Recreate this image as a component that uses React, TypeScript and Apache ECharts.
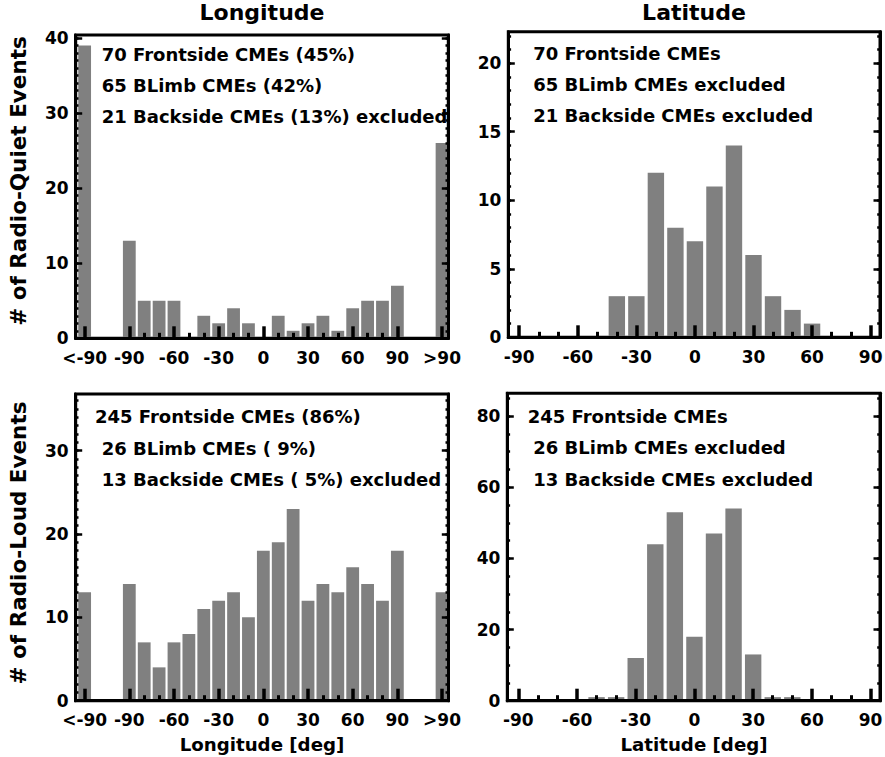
import React, { useEffect, useRef } from 'react';
import * as echarts from 'echarts';

// Longitude bins: -120 stands for the "<-90" bin, 120 for the ">90" bin
const lonBins = [-120, -90, -80, -70, -60, -50, -40, -30, -20, -10, 0, 10, 20, 30, 40, 50, 60, 70, 80, 90, 120];
const latBins = [-90, -80, -70, -60, -50, -40, -30, -20, -10, 0, 10, 20, 30, 40, 50, 60, 70, 80, 90];

const quietLon = [39, 13, 5, 5, 5, 0, 3, 2, 4, 2, 0, 3, 1, 2, 3, 1, 4, 5, 5, 7, 26];
const loudLon = [13, 14, 7, 4, 7, 8, 11, 12, 13, 10, 18, 19, 23, 12, 14, 13, 16, 14, 12, 18, 13];
const quietLat = [0, 0, 0, 0, 0, 3, 3, 12, 8, 7, 11, 14, 6, 3, 2, 1, 0, 0, 0];
const loudLat = [0, 0, 0, 0, 1, 1, 12, 44, 53, 18, 47, 54, 13, 1, 1, 0, 0, 0, 0];

const lonTickValues = [-120, -90, -60, -30, 0, 30, 60, 90, 120];
const lonTickLabels = ['<-90', '-90', '-60', '-30', '0', '30', '60', '90', '>90'];
const lonMinorTicks = [-80, -70, -50, -40, -20, -10, 10, 20, 40, 50, 70, 80];
const latTickValues = [-90, -60, -30, 0, 30, 60, 90];
const latTickLabels = ['-90', '-60', '-30', '0', '30', '60', '90'];
const latMinorTicks = [-80, -70, -50, -40, -20, -10, 10, 20, 40, 50, 70, 80];

const quietYTicks = [0, 10, 20, 30, 40];
const quietLatYTicks = [0, 5, 10, 15, 20];
const loudYTicks = [0, 10, 20, 30];
const loudLatYTicks = [0, 20, 40, 60, 80];

const titles = ['Longitude', 'Latitude'];
const yTitles = ['# of Radio-Quiet Events', '# of Radio-Loud Events'];
const xTitles = ['Longitude [deg]', 'Latitude [deg]'];

const notesQuietLon = ['70 Frontside CMEs (45%)', '65 BLimb CMEs (42%)', '21 Backside CMEs (13%) excluded'];
const notesQuietLat = ['70 Frontside CMEs', '65 BLimb CMEs excluded', '21 Backside CMEs excluded'];
const notesLoudLon = ['245 Frontside CMEs (86%)', '26 BLimb CMEs ( 9%)', '13 Backside CMEs ( 5%) excluded'];
const notesLoudLat = ['245 Frontside CMEs', '26 BLimb CMEs excluded', '13 Backside CMEs excluded'];

const FONT = 'DejaVu Sans';
const BAR = '#808080';

function range(a: number, b: number, step: number) {
  const out: number[] = [];
  for (let v = a; v <= b + 1e-9; v += step) out.push(v);
  return out;
}

export default function App() {
  const ref = useRef<HTMLDivElement>(null);

  useEffect(() => {
    const chart = echarts.init(ref.current!, null, { renderer: 'svg' });

    const panels = [
      {
        grid: { left: 75.7, top: 35, width: 372.6, height: 303.3 },
        xmin: -126, xmax: 124.2, bins: lonBins, vals: quietLon, barWidth: 12.8,
        xt: lonTickValues, xl: lonTickLabels, xm: lonMinorTicks,
        ymax: 40.4, yt: quietYTicks, ym: range(0, 40, 1),
        notes: notesQuietLon, nx: [101.7, 101.7, 101.7], ny: [54.3, 85.7, 116.7],
      },
      {
        grid: { left: 508.3, top: 31.7, width: 371.7, height: 305.6 },
        xmin: -95.6, xmax: 94.8, bins: latBins, vals: quietLat, barWidth: 16.4,
        xt: latTickValues, xl: latTickLabels, xm: latMinorTicks,
        ymax: 22.3, yt: quietLatYTicks, ym: range(0, 22, 1),
        notes: notesQuietLat, nx: [533.3, 533.3, 533.3], ny: [53.3, 84.3, 115.7],
      },
      {
        grid: { left: 75.7, top: 394, width: 372.6, height: 306.7 },
        xmin: -126, xmax: 124.2, bins: lonBins, vals: loudLon, barWidth: 12.8,
        xt: lonTickValues, xl: lonTickLabels, xm: lonMinorTicks,
        ymax: 36.8, yt: loudYTicks, ym: range(0, 36, 1),
        notes: notesLoudLon, nx: [95, 101.7, 101.7], ny: [416.7, 448.3, 479],
      },
      {
        grid: { left: 507.3, top: 393.3, width: 372.7, height: 307.4 },
        xmin: -95.6, xmax: 94.8, bins: latBins, vals: loudLat, barWidth: 16.4,
        xt: latTickValues, xl: latTickLabels, xm: latMinorTicks,
        ymax: 86.4, yt: loudLatYTicks, ym: range(0, 85, 5),
        notes: notesLoudLat, nx: [527.7, 533.3, 533.3], ny: [416.7, 447.7, 479],
      },
    ];

    const grids: any[] = [];
    const xAxes: any[] = [];
    const yAxes: any[] = [];
    const series: any[] = [];
    const graphics: any[] = [];

    const labelStyle = { color: '#000', fontFamily: FONT, fontWeight: 'bold', fontSize: 17 };

    panels.forEach((p, i) => {
      grids.push({
        ...p.grid,
        show: true,
        borderColor: '#000',
        borderWidth: 3,
        backgroundColor: 'transparent',
        containLabel: false,
        outerBoundsMode: 'none',
      });
      // main x axis
      xAxes.push({
        gridIndex: i, type: 'value', position: 'bottom', min: p.xmin, max: p.xmax, z: 5,
        axisLine: { show: true, onZero: false, lineStyle: { color: '#000', width: 3 } },
        axisTick: { show: true, inside: true, length: 12, customValues: p.xt, lineStyle: { color: '#000', width: 3.5 } },
        axisLabel: {
          show: true, margin: 11, customValues: p.xt, ...labelStyle,
          formatter: (v: number) => {
            const k = p.xt.indexOf(v);
            return k >= 0 ? p.xl[k] : '';
          },
        },
        splitLine: { show: false },
      });
      // minor x axis
      xAxes.push({
        gridIndex: i, type: 'value', position: 'bottom', min: p.xmin, max: p.xmax, z: 5,
        axisLine: { show: false, onZero: false },
        axisTick: { show: true, inside: true, length: 5.5, customValues: p.xm, lineStyle: { color: '#000', width: 3 } },
        axisLabel: { show: false },
        splitLine: { show: false },
      });
      const yBase = (position: string, major: boolean, labels: boolean) => ({
        gridIndex: i, type: 'value', position, min: 0, max: p.ymax, z: 5,
        axisLine: { show: major, onZero: false, lineStyle: { color: '#000', width: 3 } },
        axisTick: {
          show: true, inside: true, length: major ? 6.5 : 2.8,
          customValues: major ? p.yt : p.ym,
          lineStyle: { color: '#000', width: 2.5 },
        },
        axisLabel: labels
          ? { show: true, margin: 7, customValues: p.yt, ...labelStyle }
          : { show: false },
        splitLine: { show: false },
      });
      yAxes.push(yBase('left', true, true));
      yAxes.push(yBase('left', false, false));
      yAxes.push(yBase('right', true, false));
      yAxes.push(yBase('right', false, false));

      series.push({
        type: 'bar',
        xAxisIndex: i * 2,
        yAxisIndex: i * 4,
        data: p.bins.map((b, k) => [b, p.vals[k]]),
        barWidth: p.barWidth,
        itemStyle: { color: BAR },
        z: 2,
        silent: true,
      });

      p.notes.forEach((t, k) => {
        graphics.push({
          type: 'text', x: p.nx[k], y: p.ny[k], z: 10,
          style: {
            text: t, fill: '#000', fontFamily: FONT, fontWeight: 'bold', fontSize: 18,
            textAlign: 'left', textVerticalAlign: 'middle',
          },
        });
      });
    });

    // Column titles
    [262, 694].forEach((cx, k) => {
      graphics.push({
        type: 'text', x: cx, y: 12,
        style: { text: titles[k], fill: '#000', fontFamily: FONT, fontWeight: 'bold', fontSize: 22, textAlign: 'center', textVerticalAlign: 'middle' },
      });
      graphics.push({
        type: 'text', x: cx, y: 744,
        style: { text: xTitles[k], fill: '#000', fontFamily: FONT, fontWeight: 'bold', fontSize: 18.2, textAlign: 'center', textVerticalAlign: 'middle' },
      });
    });
    // Row titles (rotated)
    [181, 543].forEach((cy, k) => {
      graphics.push({
        type: 'text', x: 18, y: cy, rotation: Math.PI / 2,
        style: { text: yTitles[k], fill: '#000', fontFamily: FONT, fontWeight: 'bold', fontSize: 21.5, textAlign: 'center', textVerticalAlign: 'middle' },
      });
    });

    chart.setOption({
      animation: false,
      backgroundColor: '#fff',
      grid: grids,
      xAxis: xAxes,
      yAxis: yAxes,
      series,
      graphic: { elements: graphics },
    });

    return () => chart.dispose();
  }, []);

  return (
    <div
      ref={ref}
      style={{ position: 'fixed', left: 0, top: 0, width: 885, height: 757, background: '#fff' }}
    />
  );
}
